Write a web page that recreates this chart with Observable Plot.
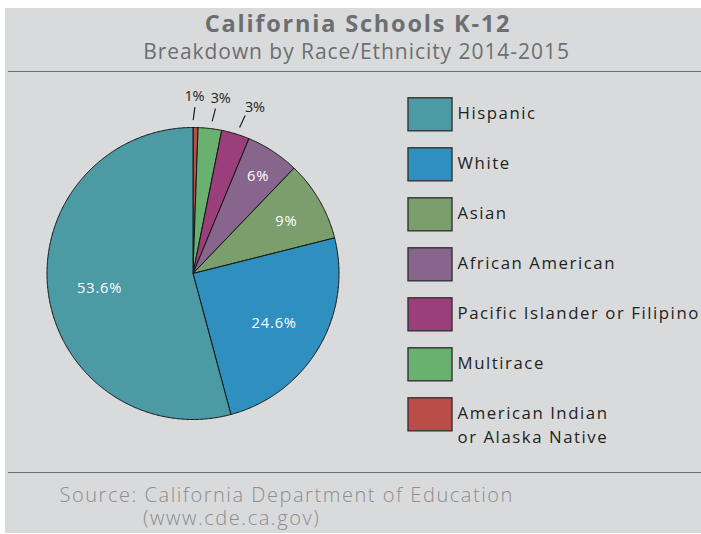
<!DOCTYPE html>
<html>
<head>
<meta charset="utf-8">
<script src="https://cdn.jsdelivr.net/npm/d3@7"></script>
<script src="https://cdn.jsdelivr.net/npm/@observablehq/plot@0.6"></script>
<style>
  html, body { margin: 0; padding: 0; background: #ffffff; }
  #page { position: relative; width: 701px; height: 534px; overflow: hidden; font-family: "Open Sans", sans-serif; }
  #panel { position: absolute; left: 5px; top: 8px; width: 696px; height: 525px; background: #d9dadb; }
  .rule { position: absolute; left: 8px; width: 693px; height: 0; border-top: 1.6px solid #6f7072; }
  #title { position: absolute; left: 0; width: 716px; top: 12.4px; text-align: center; font-weight: 700; font-size: 23.5px; line-height: 23.5px; letter-spacing: 1.8px; color: #6d6e71; white-space: nowrap; }
  #subtitle { position: absolute; left: 0; width: 713px; top: 40.6px; text-align: center; font-size: 21px; line-height: 21px; letter-spacing: 0.95px; color: #6d6e71; white-space: nowrap; }
  .src { position: absolute; font-size: 20px; line-height: 22px; letter-spacing: 1.55px; color: #8c8d8f; white-space: nowrap; font-weight: 300; }
  #chart { position: absolute; left: 0; top: 73px; }
</style>
</head>
<body>
<div id="page">
  <div id="panel"></div>
  <div id="title">California Schools K-12</div>
  <div id="subtitle">Breakdown by Race/Ethnicity 2014-2015</div>
  <div class="rule" style="top:71px"></div>
  <div id="chart"></div>
  <div class="rule" style="top:472px"></div>
  <div class="src" style="left:59.5px; top:484px">Source: California Department of Education</div>
  <div class="src" style="left:143px; top:507px">(www.cde.ca.gov)</div>
</div>
<script>
// ---- data (legend order) ----
const categories = ["Hispanic", "White", "Asian", "African American", "Pacific Islander or Filipino", "Multirace", "American Indian\nor Alaska Native"];
const shares = [54.1, 24.7, 8.9, 5.9, 3.1, 2.6, 0.55];
const shareLabels = ["53.6%", "24.6%", "9%", "6%", "3%", "3%", "1%"];
const colors = ["#4b9aa4", "#2f8fbf", "#7b9f6c", "#87658d", "#9a3f7b", "#68b16f", "#bc4c47"];

// ---- layout (styling only) ----
const cx = 192.5, cy = 200, R = 146;
const legendX1 = 408, legendX2 = 452, legendTop = 24.8, legendStep = 50, swatchH = 33;

const rows = categories.map((c, i) => ({cat: c, share: shares[i], label: shareLabels[i], i}));

// pie drawn clockwise from 12 o'clock, starting with the last legend entry
const arcs = d3.pie().sort(null).value(d => d.share)(rows.slice().reverse());

const pts = [];
for (const a of arcs) {
  const n = Math.max(2, Math.ceil((a.endAngle - a.startAngle) / (Math.PI / 360)));
  pts.push({cat: a.data.cat, x: cx, y: cy});
  for (let k = 0; k <= n; k++) {
    const t = a.startAngle + (a.endAngle - a.startAngle) * k / n;
    pts.push({cat: a.data.cat, x: cx + R * Math.sin(t), y: cy - R * Math.cos(t)});
  }
  pts.push({cat: a.data.cat, x: cx, y: cy});
}

const polar = (ang, r) => [cx + r * Math.sin(ang), cy - r * Math.cos(ang)];
const inside = [], outside = [];
let j = 0;
for (const a of arcs) {
  const mid = (a.startAngle + a.endAngle) / 2;
  if (a.data.share >= 5) {
    const rf = a.data.share > 20 ? 0.645 : (a.data.share > 7 ? 0.74 : 0.815);
    const [x, y] = polar(mid, R * rf);
    inside.push({x, y, text: a.data.label});
  } else {
    // small slices: leader tick and label spread slightly apart
    const tickA = mid + (j === 0 ? -0.011 : 0.01 + 0.004 * j);
    const [x1, y1] = polar(tickA - 0.005, R * 1.05);
    const [x2, y2] = polar(tickA + 0.005, R * 1.14);
    const [tx, ty] = polar(mid + (j === 0 ? -0.01 : 0.02 + 0.02 * j), R * 1.215);
    outside.push({x1, y1, x2, y2, tx, ty, text: a.data.label});
    j++;
  }
}

const legendRows = rows.map(d => ({
  cat: d.cat,
  top: legendTop + d.i * legendStep,
  bottom: legendTop + d.i * legendStep + swatchH,
  ty: legendTop + d.i * legendStep + swatchH / 2 - 13
}));

const chart = Plot.plot({
  width: 701,
  height: 400,
  margin: 0,
  x: {type: "identity", axis: null},
  y: {type: "identity", axis: null},
  color: {domain: categories, range: colors},
  style: {background: "transparent", fontFamily: "Open Sans, sans-serif", overflow: "visible"},
  marks: [
    Plot.line(pts, {x: "x", y: "y", z: "cat", fill: "cat", stroke: "#151515", strokeWidth: 1, strokeLinejoin: "round"}),
    Plot.text(inside, {x: "x", y: "y", text: "text", fill: "white", fontSize: 14.7, lineAnchor: "middle", dy: 2}),
    Plot.link(outside, {x1: "x1", y1: "y1", x2: "x2", y2: "y2", stroke: "#231f20", strokeWidth: 1.2}),
    Plot.text(outside, {x: "tx", y: "ty", text: "text", fill: "#231f20", fontSize: 14.5, lineAnchor: "middle"}),
    Plot.rect(legendRows, {x1: legendX1, x2: legendX2, y1: "top", y2: "bottom", fill: "cat", stroke: "#343434", strokeWidth: 1.4}),
    Plot.text(legendRows, {x: 457, y: "ty", text: "cat", fill: "#231f20", fontSize: 16.8, textAnchor: "start", lineAnchor: "top", lineHeight: 1.43})
  ]
});
// per-mark letter spacing (inside labels, outside labels, legend)
const textGroups = d3.select(chart).selectAll('g[aria-label="text"]').nodes();
const spacing = [0.8, -0.3, 1.55];
textGroups.forEach((g, i) => g.setAttribute("letter-spacing", spacing[i] + "px"));
document.getElementById("chart").appendChild(chart);
</script>
</body>
</html>
